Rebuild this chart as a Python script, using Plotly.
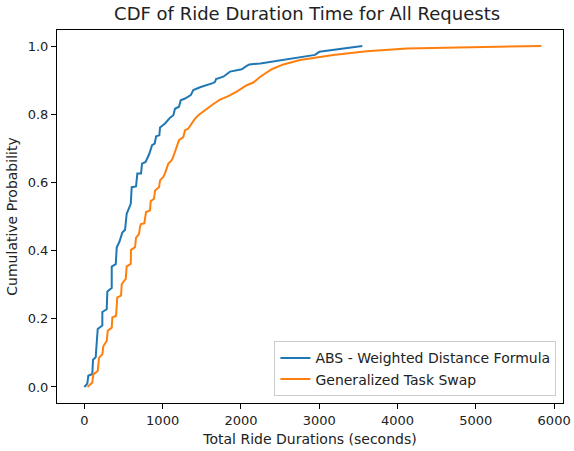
import plotly.graph_objects as go

# ABS - Weighted Distance Formula: CDF vertices (seconds, cumulative probability)
abs_duration = [0, 38, 51, 102, 111, 145, 171, 230, 230, 286, 294, 350, 350, 401, 414, 447,
                485, 520, 541, 593, 605, 660, 677, 724, 737, 783, 830, 865, 899, 917, 958,
                967, 1031, 1095, 1137, 1158, 1209, 1231, 1286, 1359, 1392, 1478, 1648, 1669,
                1682, 1775, 1861, 2010, 2074, 2107, 2248, 2946, 3001, 3550]
abs_cdf = [0.0, 0.01, 0.033, 0.038, 0.08, 0.087, 0.17, 0.18, 0.22, 0.228, 0.28, 0.29, 0.353,
           0.36, 0.41, 0.425, 0.453, 0.461, 0.508, 0.537, 0.586, 0.588, 0.626, 0.626, 0.655,
           0.66, 0.684, 0.709, 0.714, 0.735, 0.738, 0.761, 0.773, 0.79, 0.797, 0.816, 0.822,
           0.841, 0.846, 0.856, 0.871, 0.879, 0.892, 0.895, 0.903, 0.91, 0.925, 0.932, 0.942,
           0.946, 0.949, 0.974, 0.983, 1.0]

# Generalized Task Swap: CDF vertices
gts_duration = [40, 102, 115, 171, 188, 230, 243, 286, 299, 350, 358, 405, 421, 469, 478, 529,
                541, 593, 596, 648, 660, 699, 711, 724, 766, 788, 839, 848, 890, 903, 954, 967,
                1009, 1031, 1073, 1116, 1137, 1180, 1209, 1264, 1286, 1328, 1372, 1414, 1456,
                1499, 1563, 1648, 1733, 1839, 1946, 2074, 2158, 2248, 2393, 2542, 2755, 3180,
                3607, 4117, 5837]
gts_cdf = [0.0, 0.013, 0.037, 0.047, 0.086, 0.096, 0.12, 0.135, 0.165, 0.174, 0.204, 0.209,
           0.263, 0.268, 0.302, 0.317, 0.354, 0.361, 0.402, 0.41, 0.437, 0.449, 0.47, 0.478,
           0.48, 0.513, 0.518, 0.545, 0.552, 0.576, 0.586, 0.606, 0.616, 0.627, 0.655, 0.665,
           0.676, 0.709, 0.724, 0.733, 0.753, 0.758, 0.773, 0.787, 0.797, 0.805, 0.817, 0.83,
           0.843, 0.853, 0.866, 0.885, 0.893, 0.91, 0.932, 0.946, 0.959, 0.974, 0.985, 0.993,
           1.0]

x_ticks = [0, 1000, 2000, 3000, 4000, 5000, 6000]
y_ticks = [0.0, 0.2, 0.4, 0.6, 0.8, 1.0]

font = "DejaVu Sans, sans-serif"

fig = go.Figure()
fig.add_trace(go.Scatter(x=abs_duration, y=abs_cdf, mode="lines",
                         name="ABS - Weighted Distance Formula",
                         line=dict(color="#1f77b4", width=2)))
fig.add_trace(go.Scatter(x=gts_duration, y=gts_cdf, mode="lines",
                         name="Generalized Task Swap",
                         line=dict(color="#ff7f0e", width=2)))

axis_common = dict(showgrid=False, zeroline=False, showline=True, linecolor="black",
                   linewidth=1, mirror=True, ticks="outside", ticklen=5, tickcolor="black",
                   automargin=False,
                   tickfont=dict(family=font, size=13, color="#222"))

fig.update_layout(
    width=574, height=451,
    margin=dict(l=57, r=11, t=30, b=48),
    paper_bgcolor="white", plot_bgcolor="white",
    font=dict(family=font, size=13, color="#222"),
    title=dict(text="CDF of Ride Duration Time for All Requests", x=0.535, xanchor="center",
               y=0.97, yanchor="middle", font=dict(family=font, size=18, color="#222")),
    xaxis=dict(range=[-349, 6113], tickvals=x_ticks,
               title=dict(text="Total Ride Durations (seconds)", standoff=7,
                          font=dict(family=font, size=14)),
               **axis_common),
    yaxis=dict(range=[-0.047, 1.047], tickvals=y_ticks, tickformat=".1f",
               title=dict(text="Cumulative Probability", standoff=6,
                          font=dict(family=font, size=14)),
               **axis_common),
    legend=dict(x=0.987, y=0.018, xanchor="right", yanchor="bottom",
                bgcolor="rgba(255,255,255,0.8)", bordercolor="#cccccc", borderwidth=1,
                font=dict(family=font, size=14, color="#222")),
    showlegend=True,
)

fig.write_html("out.html", config={"displayModeBar": False},
               post_script="document.body.style.margin='0';")
